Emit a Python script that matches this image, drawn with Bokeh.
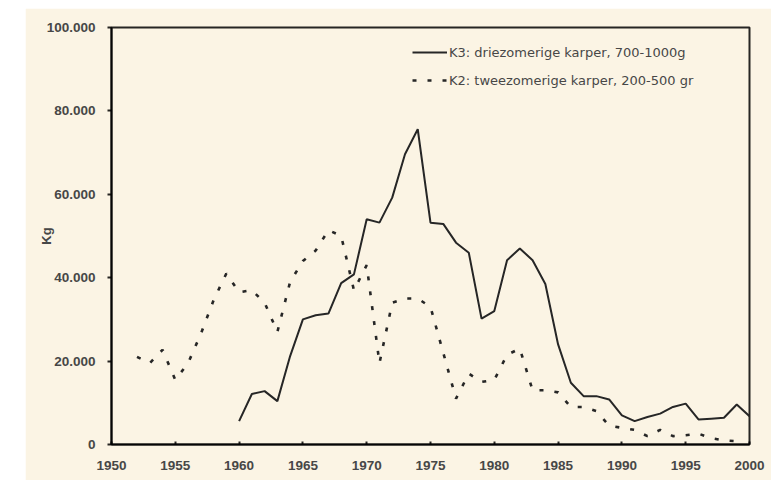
from bokeh.plotting import figure
from bokeh.models import Range1d, FixedTicker, Legend, LegendItem, Spacer
from bokeh.layouts import row, column
from bokeh.embed import file_html
from bokeh.resources import INLINE

# K3: driezomerige karper, 700-1000g (kg)
years_k3 = list(range(1960, 2001))
k3 = [5600, 12100, 12800, 10400, 21200, 30000, 31000, 31400, 38700, 40800,
      54000, 53200, 59200, 69600, 75600, 53200, 52900, 48400, 46000, 30200,
      32000, 44200, 47000, 44200, 38500, 24000, 14800, 11600, 11600, 10800,
      7000, 5600, 6600, 7400, 9000, 9800, 6000, 6200, 6400, 9600, 6800]

# K2: tweezomerige karper, 200-500 gr (kg)
years_k2 = list(range(1952, 2000))
k2 = [21000, 19500, 22700, 15500, 19500, 26500, 34600, 41000, 36500, 37000,
      34000, 27000, 39000, 44000, 46500, 51400, 50000, 37000, 43000, 19500,
      34000, 35000, 35000, 33000, 22000, 11000, 17000, 15000, 15500, 21500,
      23000, 13000, 13000, 12500, 9000, 9000, 8000, 4500, 4000, 3500,
      2000, 3500, 2000, 2200, 2600, 1500, 1000, 800]

x_ticks = [1950, 1955, 1960, 1965, 1970, 1975, 1980, 1985, 1990, 1995, 2000]
y_ticks = [0, 20000, 40000, 60000, 80000, 100000]
y_tick_labels = ["0", "20.000", "40.000", "60.000", "80.000", "100.000"]

label_k3 = "K3: driezomerige karper, 700-1000g"
label_k2 = "K2: tweezomerige karper, 200-500 gr"

BG = "#fbf4e4"
INK = "#262626"
TXT = "#474747"

# page: 8px white strip on top, 25px white strip on the left
p = figure(width=746, height=472, output_backend="svg", toolbar_location=None,
           x_range=Range1d(1950, 2000), y_range=Range1d(0, 100000),
           min_border_left=86, min_border_right=22, min_border_top=19,
           min_border_bottom=36)
p.background_fill_color = BG
p.border_fill_color = BG
p.outline_line_color = "black"
p.outline_line_width = 2
p.outline_line_alpha = 0.85
p.xgrid.visible = False
p.ygrid.visible = False

r3 = p.line(years_k3, k3, line_color=INK, line_width=2)
r2 = p.line(years_k2, k2, line_color=INK, line_width=2.6, line_dash="4 11")

p.xaxis.ticker = FixedTicker(ticks=x_ticks)
p.yaxis.ticker = FixedTicker(ticks=y_ticks)
p.yaxis.major_label_overrides = {t: l for t, l in zip(y_ticks, y_tick_labels)}
p.xaxis.minor_tick_line_color = None
p.yaxis.minor_tick_line_color = None

for ax in (p.xaxis, p.yaxis):
    ax.axis_line_color = "black"
    ax.axis_line_alpha = 0.85
    ax.axis_line_width = 2
    ax.major_tick_line_color = "black"
    ax.major_tick_line_alpha = 0.85
    ax.major_tick_line_width = 2
    ax.major_label_text_font = "Liberation Sans"
    ax.major_label_text_font_size = "13.5px"
    ax.major_label_text_font_style = "bold"
    ax.major_label_text_color = TXT

p.xaxis.major_tick_in = 3
p.xaxis.major_tick_out = 0
p.xaxis.major_label_standoff = 16
p.yaxis.major_tick_in = 0
p.yaxis.major_tick_out = 4
p.yaxis.major_label_standoff = 12

p.yaxis.axis_label = "Kg"
p.yaxis.axis_label_text_font = "Liberation Sans"
p.yaxis.axis_label_text_font_size = "13px"
p.yaxis.axis_label_text_font_style = "bold"
p.yaxis.axis_label_text_color = TXT
p.yaxis.axis_label_standoff = -10

legend = Legend(items=[LegendItem(label=label_k3, renderers=[r3]),
                       LegendItem(label=label_k2, renderers=[r2])],
                location=(301, 354))
legend.background_fill_alpha = 0
legend.border_line_color = None
legend.padding = 0
legend.margin = 0
legend.spacing = 8
legend.glyph_width = 35
legend.glyph_height = 20
legend.label_height = 20
legend.label_standoff = 2
legend.label_text_font = "DejaVu Sans"
legend.label_text_font_size = "13px"
legend.label_text_color = TXT
p.add_layout(legend, "center")

layout = column(Spacer(width=771, height=8),
                row(Spacer(width=25, height=472), p))

html = file_html(layout, INLINE)
open("out.html", "w").write(html)
